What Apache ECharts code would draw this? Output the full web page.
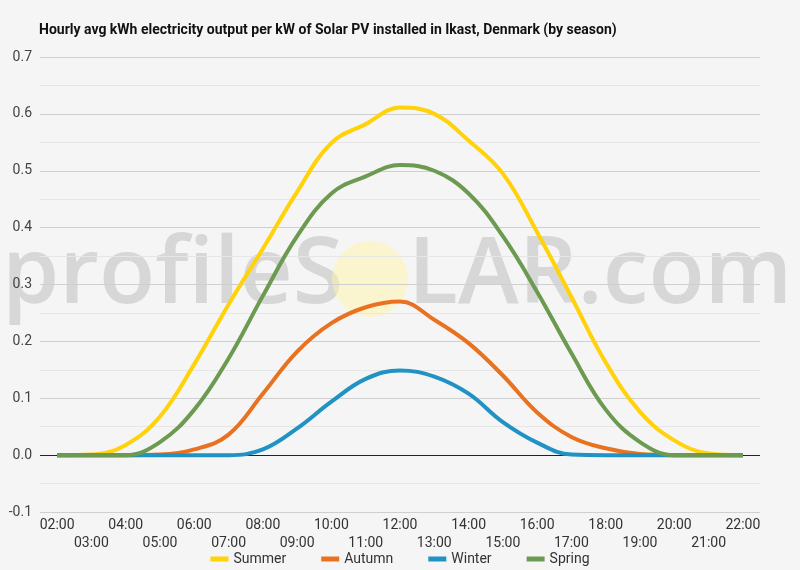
<!DOCTYPE html>
<html lang="en">
<head>
    <meta charset="UTF-8">
    <title>Solar PV output - Ikast</title>
    <script src="https://cdn.jsdelivr.net/npm/echarts@6/dist/echarts.min.js"></script>
    <style>
      body { margin: 0; background: #f5f5f5; }
    </style>
</head>
<body>
<div id="main" style="width: 800px;height:570px;"></div>

<script type="text/javascript">
  // hours along the x axis
  var hours = ['02:00','03:00','04:00','05:00','06:00','07:00','08:00','09:00','10:00','11:00','12:00',
               '13:00','14:00','15:00','16:00','17:00','18:00','19:00','20:00','21:00','22:00'];

  // kWh per kW installed
  var summer = [0, 0.001, 0.018, 0.068, 0.16, 0.265, 0.363, 0.463, 0.549, 0.582, 0.611,
                0.6, 0.553, 0.495, 0.392, 0.278, 0.163, 0.076, 0.026, 0.003, 0];
  var autumn = [0, 0, 0, 0.001, 0.01, 0.036, 0.108, 0.182, 0.232, 0.26, 0.27,
                0.238, 0.197, 0.14, 0.075, 0.032, 0.012, 0.002, 0, 0, 0];
  var winter = [0, 0, 0, 0, 0, 0, 0.01, 0.047, 0.094, 0.134, 0.149,
                0.138, 0.108, 0.058, 0.022, 0.001, 0, 0, 0, 0, 0];
  var spring = [0, 0, 0, 0.023, 0.08, 0.17, 0.28, 0.385, 0.46, 0.49, 0.51,
                0.5, 0.46, 0.385, 0.287, 0.179, 0.08, 0.023, 0, 0, 0];

  var yTicks = { min: -0.1, max: 0.7, step: 0.1 };

  var myChart = echarts.init(document.getElementById('main'));

  function line(name, data, color) {
    return {
      name: name,
      type: 'line',
      data: data,
      smooth: 0.4,
      showSymbol: false,
      lineStyle: { width: 4, color: color },
      itemStyle: { color: color }
    };
  }

  var series = [
    line('Summer', summer, '#ffd20a'),
    line('Autumn', autumn, '#e8721f'),
    line('Winter', winter, '#2092c4'),
    line('Spring', spring, '#6c9a50')
  ];
  // the dark zero line
  series[0].markLine = {
    silent: true,
    symbol: 'none',
    label: { show: false },
    lineStyle: { color: '#222', width: 1, type: 'solid' },
    data: [{ yAxis: 0 }],
    z: 1
  };

  var option = {
    backgroundColor: '#f5f5f5',
    textStyle: { fontFamily: 'Roboto' },
    title: {
      text: 'Hourly avg kWh electricity output per kW of Solar PV installed in Ikast, Denmark (by season)',
      left: 34,
      top: 18,
      textStyle: { fontSize: 14, fontWeight: 'bold', color: '#111', fontFamily: 'Roboto' }
    },
    // profileSOLAR watermark
    graphic: [
      {
        type: 'text', left: 2, top: 231, z: 0, silent: true,
        style: { text: 'profileS', fill: 'rgba(190,190,190,0.55)', font: '600 92px "Open Sans"' }
      },
      {
        type: 'circle', shape: { cx: 370, cy: 279, r: 38 }, z: 0, silent: true,
        style: { fill: 'rgba(255,245,170,0.5)' }
      },
      {
        type: 'text', left: 408, top: 231, z: 0, silent: true,
        style: { text: 'LAR.com', fill: 'rgba(190,190,190,0.55)', font: '600 92px "Open Sans"' }
      }
    ],
    legend: {
      data: ['Summer', 'Autumn', 'Winter', 'Spring'],
      top: 547,
      left: 'center',
      icon: 'rect',
      itemWidth: 18,
      itemHeight: 5,
      itemGap: 35,
      textStyle: { fontSize: 14, color: '#333', fontFamily: 'Roboto' }
    },
    grid: { left: 40, right: 40, top: 57, bottom: 58 },
    xAxis: {
      type: 'category',
      data: hours,
      boundaryGap: true,
      axisLine: { show: false, onZero: false },
      axisTick: { show: false },
      axisLabel: {
        interval: 0,
        color: '#333',
        fontSize: 14,
        lineHeight: 18,
        margin: 4,
        formatter: function (v, i) { return i % 2 ? '\n' + v : v; }
      }
    },
    yAxis: {
      type: 'value',
      min: yTicks.min,
      max: yTicks.max,
      interval: yTicks.step,
      axisLabel: {
        color: '#444',
        fontSize: 14,
        margin: 8,
        formatter: function (v) { return v.toFixed(1); }
      },
      axisLine: { show: false },
      axisTick: { show: false },
      splitLine: { lineStyle: { color: '#cfcfcf', width: 1 } },
      minorTick: { show: false, splitNumber: 2 },
      minorSplitLine: { show: true, lineStyle: { color: '#e6e6e6', width: 1 } }
    },
    series: series
  };

  myChart.setOption(option);
</script>

</body>
</html>
